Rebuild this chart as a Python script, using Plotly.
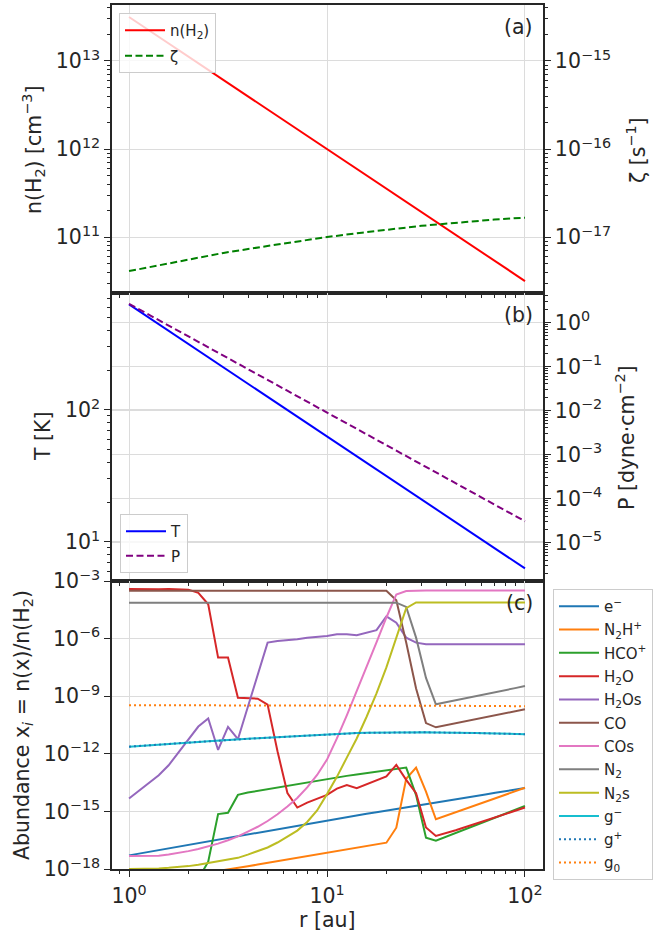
import plotly.graph_objects as go

# ---------------------------------------------------------------
# Physical structure of the disc midplane
# ---------------------------------------------------------------
r_phys = [1, 1.5, 2, 3, 5, 7, 10, 15, 20, 30, 50, 70, 100]            # au
n_H2 = [3.16e13, 1.72e13, 1.12e13, 6.09e12, 2.83e12, 1.71e12, 1.0e12,
        5.44e11, 3.54e11, 1.92e11, 8.94e10, 5.4e10, 3.16e10]           # cm^-3
zeta = [4.1e-18, 4.9e-18, 5.6e-18, 6.6e-18, 7.9e-18, 8.9e-18, 1.0e-17,
        1.12e-17, 1.2e-17, 1.34e-17, 1.48e-17, 1.58e-17, 1.66e-17]     # s^-1
T_gas = [630, 420, 315, 210, 126, 90, 63, 42, 31.5, 21, 12.6, 9.0, 6.3]  # K
P_gas = [2.65, 0.973, 0.478, 0.176, 0.0498, 0.0217, 0.00898, 0.0033,
         1.62e-3, 5.95e-4, 1.69e-4, 7.34e-5, 3.04e-5]                  # dyne cm^-2

# ---------------------------------------------------------------
# Chemistry grid and log10 abundances relative to H2
# ---------------------------------------------------------------
r_au = [1.0, 1.122, 1.259, 1.413, 1.585, 1.778, 1.995, 2.239, 2.512, 2.818,
        3.162, 3.548, 3.981, 4.467, 5.012, 5.623, 6.310, 7.079, 7.943, 8.913,
        10.0, 11.22, 12.59, 14.13, 15.85, 17.78, 19.95, 22.39, 25.12, 28.18,
        31.62, 35.48, 39.81, 44.67, 50.12, 56.23, 63.10, 70.79, 79.43, 89.13,
        100.0]

log_e = [-17.29, -17.20, -17.10, -17.01, -16.91, -16.82, -16.72, -16.63, -16.54, -16.44,
         -16.35, -16.26, -16.17, -16.08, -15.99, -15.91, -15.82, -15.73, -15.64, -15.55,
         -15.46, -15.38, -15.29, -15.21, -15.12, -15.04, -14.96, -14.87, -14.79, -14.70,
         -14.62, -14.54, -14.45, -14.37, -14.28, -14.20, -14.12, -14.03, -13.95, -13.86,
         -13.78]
log_N2Hp = [-18.9, -18.8, -18.7, -18.6, -18.5, -18.4, -18.35, -18.25, -18.15, -18.1,
            -18.03, -17.94, -17.86, -17.77, -17.68, -17.59, -17.51, -17.42, -17.33, -17.24,
            -17.16, -17.07, -16.98, -16.89, -16.81, -16.72, -16.63, -15.85, -13.3, -12.72,
            -13.97, -15.41, -15.23, -15.05, -14.86, -14.68, -14.50, -14.32, -14.14, -13.95,
            -13.77]
log_HCOp = [-21.0, -21.0, -21.0, -20.6, -20.2, -19.7, -19.1, -18.52, -17.62, -15.14,
            -15.07, -14.14, -14.02, -13.93, -13.85, -13.74, -13.66, -13.57, -13.48, -13.39,
            -13.31, -13.2, -13.15, -13.08, -13.01, -12.94, -12.89, -12.8, -12.72, -14.15,
            -16.37, -16.53, -16.33, -16.13, -15.93, -15.73, -15.52, -15.32, -15.12, -14.92,
            -14.72]
log_H2O = [-3.42, -3.43, -3.45, -3.43, -3.42, -3.42, -3.45, -3.62, -4.21, -6.99,
           -6.99, -9.08, -9.11, -9.13, -9.44, -11.87, -14.04, -14.8, -14.54, -14.34,
           -14.14, -13.81, -13.63, -13.79, -13.58, -13.37, -13.18, -12.58, -13.36, -14.05,
           -15.84, -16.28, -16.14, -15.98, -15.81, -15.64, -15.47, -15.3, -15.14, -14.97,
           -14.8]
log_H2Os = [-14.33, -13.93, -13.53, -13.12, -12.6, -11.94, -11.24, -10.58, -10.16, -11.8,
            -10.6, -11.24, -9.56, -7.89, -6.21, -6.12, -6.09, -6.03, -5.96, -5.91,
            -5.86, -5.77, -5.77, -5.83, -5.69, -5.56, -4.84, -5.17, -5.95, -6.21,
            -6.29, -6.3, -6.3, -6.3, -6.3, -6.3, -6.3, -6.3, -6.3, -6.3,
            -6.3]
log_CO = [-3.51, -3.51, -3.51, -3.51, -3.51, -3.51, -3.51, -3.51, -3.51, -3.51,
          -3.51, -3.51, -3.51, -3.51, -3.51, -3.51, -3.51, -3.51, -3.51, -3.51,
          -3.51, -3.51, -3.51, -3.51, -3.51, -3.51, -3.51, -4.0, -6.2, -8.6,
          -10.4, -10.62, -10.52, -10.41, -10.31, -10.2, -10.1, -10.0, -9.89, -9.79,
          -9.68]
log_COs = [-17.32, -17.32, -17.33, -17.31, -17.25, -17.17, -17.07, -16.96, -16.83, -16.68,
           -16.5, -16.3, -16.05, -15.8, -15.5, -15.15, -14.75, -14.3, -13.75, -13.1,
           -12.3, -11.2, -10.0, -8.75, -7.5, -6.2, -4.9, -3.7, -3.52, -3.5,
           -3.5, -3.5, -3.5, -3.5, -3.5, -3.5, -3.5, -3.5, -3.5, -3.5,
           -3.5]
log_N2 = [-4.13, -4.13, -4.13, -4.13, -4.13, -4.13, -4.13, -4.13, -4.13, -4.13,
          -4.13, -4.13, -4.13, -4.13, -4.13, -4.13, -4.13, -4.13, -4.13, -4.13,
          -4.13, -4.13, -4.13, -4.13, -4.13, -4.13, -4.13, -4.13, -4.35, -5.95,
          -8.05, -9.42, -9.31, -9.21, -9.10, -9.0, -8.89, -8.79, -8.68, -8.58,
          -8.47]
log_N2s = [-18.0, -18.0, -17.99, -17.97, -17.94, -17.9, -17.85, -17.78, -17.7, -17.6,
           -17.52, -17.42, -17.25, -17.08, -16.88, -16.62, -16.33, -16.0, -15.55, -14.95,
           -14.1, -13.2, -12.2, -11.2, -10.07, -8.85, -7.5, -6.0, -4.42, -4.12,
           -4.12, -4.12, -4.12, -4.12, -4.12, -4.12, -4.12, -4.12, -4.12, -4.12,
           -4.12]
log_gm = [-11.63, -11.59, -11.56, -11.52, -11.49, -11.45, -11.42, -11.38, -11.35, -11.31,
          -11.28, -11.25, -11.22, -11.19, -11.16, -11.13, -11.10, -11.07, -11.04, -11.01,
          -10.98, -10.96, -10.94, -10.92, -10.91, -10.90, -10.89, -10.89, -10.88, -10.88,
          -10.88, -10.89, -10.89, -10.90, -10.91, -10.92, -10.93, -10.94, -10.95, -10.97,
          -10.98]
log_gp = [-11.63, -11.59, -11.56, -11.52, -11.49, -11.45, -11.42, -11.38, -11.35, -11.31,
          -11.28, -11.25, -11.22, -11.19, -11.16, -11.13, -11.10, -11.07, -11.04, -11.01,
          -10.98, -10.96, -10.94, -10.92, -10.91, -10.90, -10.89, -10.89, -10.88, -10.88,
          -10.88, -10.89, -10.89, -10.90, -10.91, -10.92, -10.93, -10.94, -10.95, -10.97,
          -10.98]
log_g0 = [-9.47, -9.47, -9.47, -9.47, -9.47, -9.47, -9.47, -9.47, -9.47, -9.47,
          -9.47, -9.48, -9.48, -9.48, -9.48, -9.48, -9.48, -9.48, -9.48, -9.48,
          -9.48, -9.49, -9.49, -9.49, -9.49, -9.49, -9.49, -9.49, -9.49, -9.50,
          -9.50, -9.50, -9.50, -9.50, -9.50, -9.51, -9.51, -9.51, -9.51, -9.52,
          -9.52]

species_names = ["e<sup>−</sup>", "N<sub>2</sub>H<sup>+</sup>", "HCO<sup>+</sup>",
                 "H<sub>2</sub>O", "H<sub>2</sub>Os", "CO", "COs", "N<sub>2</sub>",
                 "N<sub>2</sub>s", "g<sup>−</sup>", "g<sup>+</sup>", "g<sub>0</sub>"]
species_logx = [log_e, log_N2Hp, log_HCOp, log_H2O, log_H2Os, log_CO, log_COs,
                log_N2, log_N2s, log_gm, log_gp, log_g0]

# line styles for the abundance panel
species_colors = ["#1f77b4", "#ff7f0e", "#2ca02c", "#d62728", "#9467bd", "#8c564b",
                  "#e377c2", "#7f7f7f", "#bcbd22", "#17becf", "#1f77b4", "#ff7f0e"]
species_dash = ["solid"] * 10 + ["2px,3px", "2px,3px"]

# ---------------------------------------------------------------
# Figure geometry and styling helpers
# ---------------------------------------------------------------
W, H = 671, 932
FONT = "DejaVu Sans"
INK = "#262626"
GRID = "#dcdcdc"


def fx(p):
    return p / W


def fy(p):
    return 1 - p / H


def pow10(e):
    return "10<sup>" + str(e).replace("-", "−") + "</sup>"


def minors(lo, hi):
    return [k * 10.0 ** d for d in range(lo, hi + 1) for k in range(2, 10)]


XDOM = [fx(112), fx(543)]
XRANGE = [-0.086, 2.091]
TICKFONT = dict(family=FONT, size=20.5, color=INK)


def x_axis(anchor, labels):
    return dict(
        type="log", range=XRANGE, domain=XDOM, anchor=anchor,
        showline=True, linecolor=INK, linewidth=1.5, mirror=True,
        showgrid=True, gridcolor=GRID, gridwidth=1, zeroline=False,
        ticks="outside", ticklen=6, tickwidth=1.2, tickcolor=INK,
        tickmode="array", tickvals=[1, 10, 100],
        ticktext=[pow10(0), pow10(1), pow10(2)],
        showticklabels=labels, tickfont=TICKFONT, automargin=False,
        ticklabelstandoff=2,
        minor=dict(tickmode="array", tickvals=minors(-1, 1), ticks="outside",
                   ticklen=3.5, tickwidth=1, tickcolor=INK, showgrid=False),
    )


def y_axis(dom, rng, decades, minor_dec=None, side="left", overlay=None, anchor=None):
    ax = dict(
        type="log", range=rng, side=side, anchor=anchor,
        showline=True, linecolor=INK, linewidth=1.5, mirror=True,
        showgrid=True, gridcolor=GRID, gridwidth=1, zeroline=False,
        ticks="outside", ticklen=6, tickwidth=1.2, tickcolor=INK,
        tickmode="array", tickvals=[10.0 ** d for d in decades],
        ticktext=[pow10(d) for d in decades], tickfont=TICKFONT,
        automargin=False,
    )
    if dom is not None:
        ax["domain"] = dom
    if overlay is not None:
        ax["overlaying"] = overlay
    if minor_dec is not None:
        ax["minor"] = dict(tickmode="array", tickvals=minors(*minor_dec),
                           ticks="outside", ticklen=3.5, tickwidth=1,
                           tickcolor=INK, showgrid=False)
    return ax


fig = go.Figure()

# panel (a): density and ionisation rate
fig.add_trace(go.Scatter(x=r_phys, y=n_H2, mode="lines", name="n(H<sub>2</sub>)",
                         line=dict(color="#ff0000", width=2), xaxis="x", yaxis="y",
                         legend="legend", legendgroup="a1"))
fig.add_trace(go.Scatter(x=r_phys, y=zeta, mode="lines", name="ζ",
                         line=dict(color="#008000", width=2, dash="7px,3.5px"),
                         xaxis="x", yaxis="y2", legend="legend", legendgroup="a2"))

# panel (b): temperature and pressure
fig.add_trace(go.Scatter(x=r_phys, y=T_gas, mode="lines", name="T",
                         line=dict(color="#0000ff", width=2), xaxis="x2", yaxis="y3",
                         legend="legend2", legendgroup="b1"))
fig.add_trace(go.Scatter(x=r_phys, y=P_gas, mode="lines", name="P",
                         line=dict(color="#800080", width=2, dash="7px,3.5px"),
                         xaxis="x2", yaxis="y4", legend="legend2", legendgroup="b2"))

# panel (c): abundances
for i, (name, logx) in enumerate(zip(species_names, species_logx)):
    fig.add_trace(go.Scatter(
        x=r_au, y=[10.0 ** v for v in logx], mode="lines", name=name,
        line=dict(color=species_colors[i], width=2, dash=species_dash[i]),
        xaxis="x3", yaxis="y5", legend="legend3", legendgroup=f"s{i}"))

DOM_A = [fy(293), fy(5)]
DOM_B = [fy(581), fy(293)]
DOM_C = [fy(869), fy(581)]

legend_common = dict(bgcolor="rgba(255,255,255,0.8)", bordercolor="#cccccc",
                     borderwidth=1, font=dict(family=FONT, size=15, color=INK),
                     xanchor="left", itemwidth=40)

title_font = dict(family=FONT, size=20.5, color=INK)


def side_title(text, x, y):
    return dict(text=text, x=fx(x), y=fy(y), xref="paper", yref="paper",
                showarrow=False, textangle=-90, xanchor="center", yanchor="middle",
                font=title_font)


def panel_tag(text, y):
    return dict(text=text, x=fx(535), y=fy(y), xref="paper", yref="paper",
                showarrow=False, xanchor="right", yanchor="middle", font=title_font)


fig.update_layout(
    width=W, height=H, autosize=False,
    margin=dict(l=0, r=0, t=0, b=0, pad=0, autoexpand=False),
    paper_bgcolor="white", plot_bgcolor="white",
    font=dict(family=FONT, color=INK),
    showlegend=True,
    xaxis=x_axis("y", False),
    xaxis2=x_axis("y3", False),
    xaxis3=x_axis("y5", True),
    yaxis=y_axis(DOM_A, [10.364, 13.636], [11, 12, 13], (10, 13), anchor="x"),
    yaxis2=y_axis(None, [-17.636, -14.364], [-17, -16, -15], (-18, -15),
                  side="right", overlay="y", anchor="x"),
    yaxis3=y_axis(DOM_B, [0.704, 2.886], [1, 2], (0, 2), anchor="x2"),
    yaxis4=y_axis(None, [-5.873, 0.668], [-5, -4, -3, -2, -1, 0], (-6, 0),
                  side="right", overlay="y3", anchor="x2"),
    yaxis5=y_axis(DOM_C, [-18, -3], [-18, -15, -12, -9, -6, -3], anchor="x3"),
    legend=dict(x=fx(119), y=fy(13), yanchor="top", tracegroupgap=3, **legend_common),
    legend2=dict(x=fx(120), y=fy(573), yanchor="bottom", tracegroupgap=2,
                 **legend_common),
    legend3=dict(x=fx(553), y=fy(589), yanchor="top", tracegroupgap=0.8,
                 **legend_common),
    annotations=[
        side_title("n(H<sub>2</sub>) [cm<sup>−3</sup>]", 33, 150),
        side_title("ζ [s<sup>−1</sup>]", 636, 150),
        side_title("T [K]", 43, 437),
        side_title("P [dyne·cm<sup>−2</sup>]", 625, 438),
        side_title("Abundance x<sub><i>i</i></sub> = n(x)/n(H<sub>2</sub>)", 23, 725),
        dict(text="r [au]", x=fx(327), y=fy(920), xref="paper", yref="paper",
             showarrow=False, xanchor="center", yanchor="middle", font=title_font),
        panel_tag("(a)", 27),
        panel_tag("(b)", 315),
        panel_tag("(c)", 603),
    ],
)

fig.write_html("out.html")
